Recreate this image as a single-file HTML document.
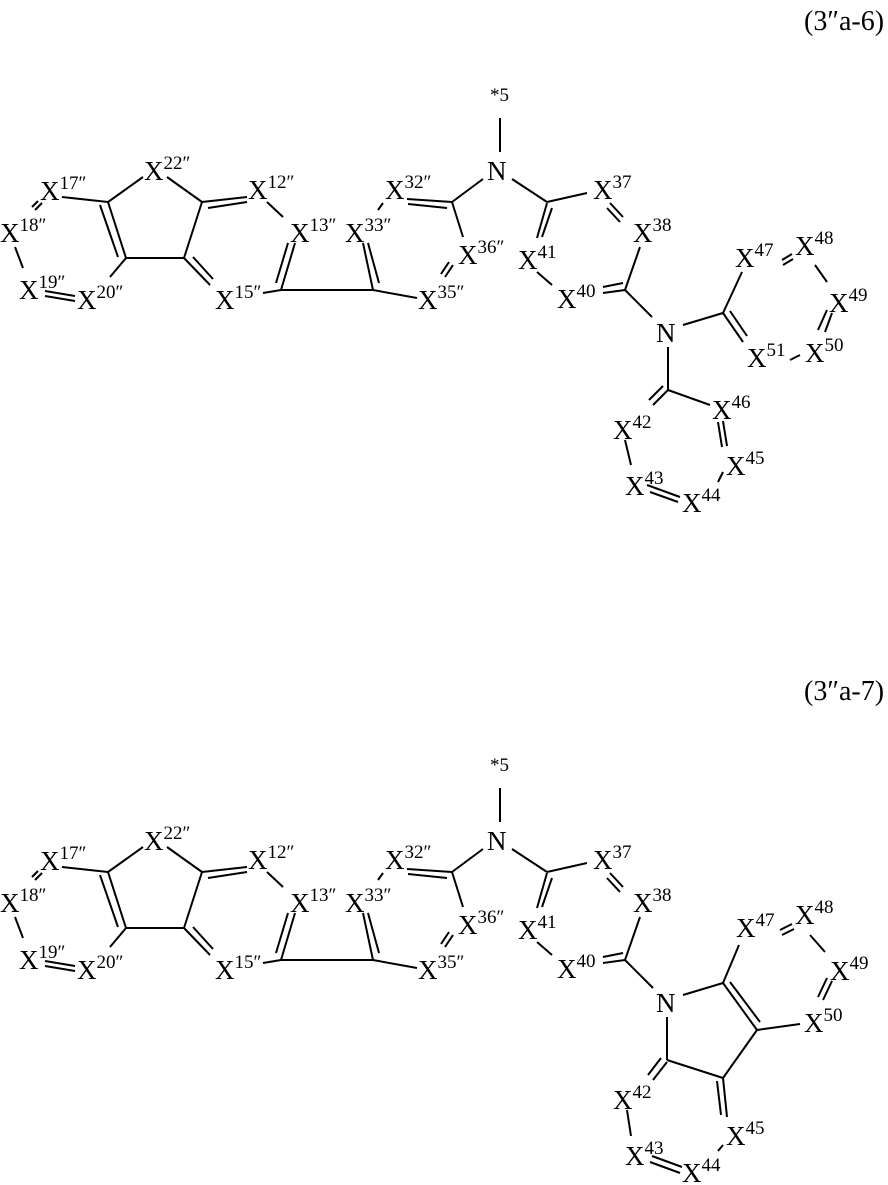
<!DOCTYPE html>
<html><head><meta charset="utf-8"><style>
html,body{margin:0;padding:0;background:#fff;}
svg{display:block;}
text{font-family:"Liberation Serif",serif;font-size:27px;fill:#000;}
.s{font-size:19px;}
line{stroke:#000;stroke-width:2;}
</style></head><body>
<svg width="888" height="1185" viewBox="0 0 888 1185">
<defs>
<g id="common">
<text x="490" y="101" class="s">*5</text>
<line x1="500" y1="118" x2="500" y2="152"/>
<text x="487" y="180">N</text>
<text x="144" y="180">X<tspan class="s" dy="-11">22″</tspan></text>
<text x="40" y="200">X<tspan class="s" dy="-11">17″</tspan></text>
<text x="0" y="242">X<tspan class="s" dy="-11">18″</tspan></text>
<text x="19" y="299">X<tspan class="s" dy="-11">19″</tspan></text>
<text x="77" y="309">X<tspan class="s" dy="-11">20″</tspan></text>
<text x="248" y="199">X<tspan class="s" dy="-11">12″</tspan></text>
<text x="290" y="242">X<tspan class="s" dy="-11">13″</tspan></text>
<text x="215" y="309">X<tspan class="s" dy="-11">15″</tspan></text>
<text x="345" y="242">X<tspan class="s" dy="-11">33″</tspan></text>
<text x="385" y="199">X<tspan class="s" dy="-11">32″</tspan></text>
<text x="418" y="309">X<tspan class="s" dy="-11">35″</tspan></text>
<text x="458" y="264">X<tspan class="s" dy="-11">36″</tspan></text>
<text x="518" y="269">X<tspan class="s" dy="-11">41</tspan></text>
<text x="593" y="199">X<tspan class="s" dy="-11">37</tspan></text>
<text x="633" y="242">X<tspan class="s" dy="-11">38</tspan></text>
<text x="557" y="308">X<tspan class="s" dy="-11">40</tspan></text>
<line x1="108" y1="202" x2="143" y2="177"/>
<line x1="167" y1="177" x2="202" y2="202"/>
<line x1="62" y1="197" x2="108" y2="202"/>
<line x1="108" y1="202" x2="126" y2="258"/>
<line x1="100" y1="205" x2="118" y2="257"/>
<line x1="126" y1="258" x2="184" y2="258"/>
<line x1="202" y1="202" x2="184" y2="258"/>
<line x1="126" y1="258" x2="110" y2="277"/>
<line x1="184" y1="258" x2="210" y2="285"/>
<line x1="193" y1="257" x2="213" y2="279"/>
<line x1="202" y1="202" x2="247" y2="197"/>
<line x1="208" y1="208" x2="247" y2="202"/>
<line x1="267" y1="202" x2="283" y2="217"/>
<line x1="295" y1="243" x2="281" y2="290"/>
<line x1="288" y1="243" x2="276" y2="283"/>
<line x1="281" y1="290" x2="263" y2="293"/>
<line x1="281" y1="290" x2="373" y2="290"/>
<line x1="363" y1="243" x2="373" y2="290"/>
<line x1="368" y1="243" x2="379" y2="283"/>
<line x1="373" y1="290" x2="417" y2="298"/>
<line x1="42" y1="203" x2="35" y2="210"/>
<line x1="38" y1="201" x2="32" y2="207"/>
<line x1="15" y1="247" x2="23" y2="268"/>
<line x1="45" y1="291" x2="75" y2="296"/>
<line x1="45" y1="296" x2="75" y2="301"/>
<line x1="407" y1="199" x2="452" y2="202"/>
<line x1="408" y1="204" x2="447" y2="208"/>
<line x1="383" y1="203" x2="378" y2="210"/>
<line x1="452" y1="202" x2="483" y2="179"/>
<line x1="512" y1="179" x2="547" y2="202"/>
<line x1="547" y1="202" x2="587" y2="193"/>
<line x1="547" y1="203" x2="537" y2="238"/>
<line x1="552" y1="208" x2="542" y2="237"/>
<line x1="452" y1="202" x2="463" y2="237"/>
<line x1="453" y1="265" x2="445" y2="277"/>
<line x1="449" y1="262" x2="441" y2="274"/>
<line x1="610" y1="203" x2="623" y2="217"/>
<line x1="607" y1="208" x2="620" y2="222"/>
<line x1="640" y1="247" x2="625" y2="290"/>
<line x1="603" y1="287" x2="623" y2="283"/>
<line x1="603" y1="293" x2="625" y2="290"/>
<line x1="537" y1="272" x2="552" y2="285"/>
</g>
</defs>

<text x="804" y="30" style="font-size:28px">(3″a-6)</text>
<use href="#common"/>
<line x1="625" y1="290" x2="652" y2="317"/>
<text x="656" y="342">N</text>
<line x1="683" y1="325" x2="723" y2="313"/>
<line x1="723" y1="313" x2="742" y2="272"/>
<line x1="723" y1="313" x2="743" y2="342"/>
<line x1="730" y1="311" x2="747" y2="336"/>
<line x1="782" y1="260" x2="792" y2="254"/>
<line x1="783" y1="265" x2="793" y2="259"/>
<line x1="815" y1="265" x2="827" y2="282"/>
<line x1="827" y1="310" x2="818" y2="330"/>
<line x1="832" y1="313" x2="825" y2="332"/>
<line x1="790" y1="360" x2="800" y2="355"/>
<line x1="668" y1="347" x2="668" y2="390"/>
<line x1="668" y1="390" x2="653" y2="405"/>
<line x1="663" y1="386" x2="649" y2="400"/>
<line x1="668" y1="390" x2="710" y2="405"/>
<line x1="718" y1="422" x2="722" y2="447"/>
<line x1="723" y1="421" x2="727" y2="446"/>
<line x1="625" y1="440" x2="631" y2="465"/>
<line x1="723" y1="472" x2="718" y2="482"/>
<line x1="647" y1="485" x2="680" y2="497"/>
<line x1="650" y1="492" x2="678" y2="502"/>
<text x="735" y="267">X<tspan class="s" dy="-11">47</tspan></text>
<text x="795" y="255">X<tspan class="s" dy="-11">48</tspan></text>
<text x="829" y="312">X<tspan class="s" dy="-11">49</tspan></text>
<text x="747" y="367">X<tspan class="s" dy="-11">51</tspan></text>
<text x="805" y="362">X<tspan class="s" dy="-11">50</tspan></text>
<text x="613" y="439">X<tspan class="s" dy="-11">42</tspan></text>
<text x="712" y="419">X<tspan class="s" dy="-11">46</tspan></text>
<text x="726" y="475">X<tspan class="s" dy="-11">45</tspan></text>
<text x="625" y="495">X<tspan class="s" dy="-11">43</tspan></text>
<text x="682" y="512">X<tspan class="s" dy="-11">44</tspan></text>

<text x="804" y="700" style="font-size:28px">(3″a-7)</text>
<use href="#common" transform="translate(0,670)"/>
<line x1="625" y1="960" x2="653" y2="988"/>
<text x="656" y="1012">N</text>
<line x1="683" y1="995" x2="723" y2="983"/>
<line x1="723" y1="983" x2="739" y2="945"/>
<line x1="723" y1="983" x2="757" y2="1030"/>
<line x1="730" y1="982" x2="760" y2="1022"/>
<line x1="757" y1="1030" x2="800" y2="1024"/>
<line x1="757" y1="1030" x2="723" y2="1078"/>
<line x1="723" y1="1078" x2="667" y2="1060"/>
<line x1="667" y1="1017" x2="667" y2="1060"/>
<line x1="667" y1="1062" x2="653" y2="1080"/>
<line x1="661" y1="1058" x2="648" y2="1075"/>
<line x1="723" y1="1078" x2="727" y2="1117"/>
<line x1="717" y1="1081" x2="721" y2="1115"/>
<line x1="627" y1="1110" x2="631" y2="1136"/>
<line x1="723" y1="1145" x2="718" y2="1151"/>
<line x1="652" y1="1156" x2="682" y2="1167"/>
<line x1="650" y1="1162" x2="680" y2="1173"/>
<line x1="780" y1="930" x2="792" y2="924"/>
<line x1="782" y1="935" x2="794" y2="929"/>
<line x1="810" y1="935" x2="825" y2="952"/>
<line x1="832" y1="981" x2="823" y2="1000"/>
<line x1="827" y1="978" x2="818" y2="997"/>
<text x="736" y="937">X<tspan class="s" dy="-11">47</tspan></text>
<text x="795" y="924">X<tspan class="s" dy="-11">48</tspan></text>
<text x="830" y="980">X<tspan class="s" dy="-11">49</tspan></text>
<text x="804" y="1032">X<tspan class="s" dy="-11">50</tspan></text>
<text x="613" y="1109">X<tspan class="s" dy="-11">42</tspan></text>
<text x="726" y="1145">X<tspan class="s" dy="-11">45</tspan></text>
<text x="625" y="1165">X<tspan class="s" dy="-11">43</tspan></text>
<text x="682" y="1182">X<tspan class="s" dy="-11">44</tspan></text>
</svg>
</body></html>
